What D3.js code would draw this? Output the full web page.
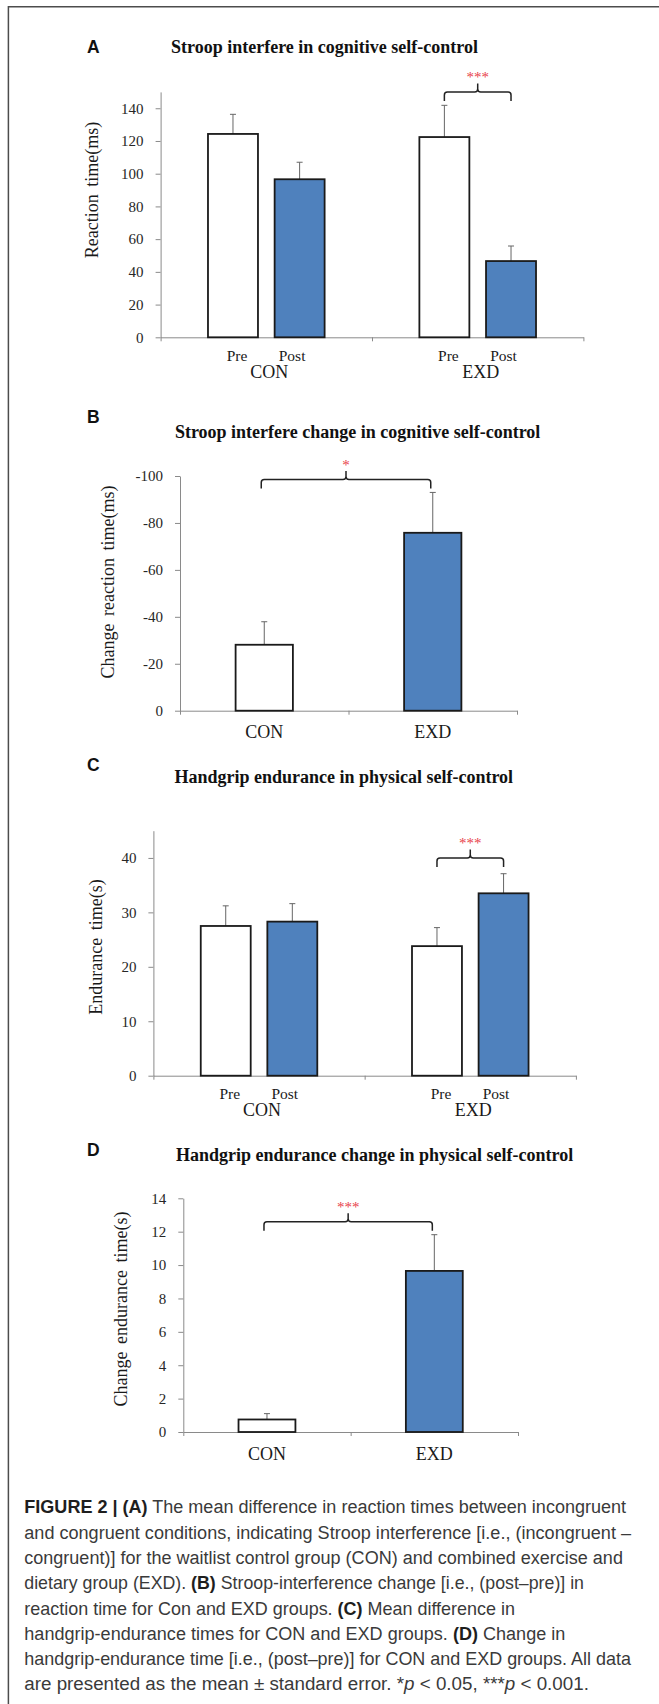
<!DOCTYPE html>
<html>
<head>
<meta charset="utf-8">
<script src="https://cdn.jsdelivr.net/npm/d3@7"></script>
<style>
  body { margin: 0; background: #fff; }
  svg { display: block; }
</style>
</head>
<body>
<script>
var groups = ['CON', 'EXD'];
var phases = ['Pre', 'Post'];

// A: Stroop interference (ms), [group][phase]
var stroopMean = [[124.3, 96.6], [122.4, 46.6]];
var stroopErr = [[12.0, 10.4], [19.4, 9.2]];
var stroopTicks = [0, 20, 40, 60, 80, 100, 120, 140];

// B: change in Stroop interference (ms)
var stroopChange = [-28.1, -75.8];
var stroopChangeErr = [-9.8, -17.2];
var stroopChangeTicks = [0, -20, -40, -60, -80, -100];

// C: handgrip endurance (s), [group][phase]
var gripMean = [[27.5, 28.3], [23.8, 33.5]];
var gripErr = [[3.7, 3.3], [3.4, 3.6]];
var gripTicks = [0, 10, 20, 30, 40];

// D: change in handgrip endurance (s)
var gripChange = [0.75, 9.65];
var gripChangeErr = [0.35, 2.17];
var gripChangeTicks = [0, 2, 4, 6, 8, 10, 12, 14];

// significance brackets, one per panel
var sigLevels = [150, -98.5, 40, 12.6];
var sigLabels = ['***', '*', '***', '***'];

var titles = ['Stroop interfere in cognitive self-control',
              'Stroop interfere change in cognitive self-control',
              'Handgrip endurance in physical self-control',
              'Handgrip endurance change in physical self-control'];
var yLabels = ['Reaction time(ms)', 'Change reaction time(ms)',
               'Endurance time(s)', 'Change endurance time(s)'];
var letters = ['A', 'B', 'C', 'D'];

var blue = '#4f81bd';
var serif = '"Liberation Serif", "Times New Roman", serif';

var svg = d3.select('body').append('svg')
  .attr('width', 659)
  .attr('height', 1704);

svg.append('path')
  .attr('d', 'M8.4,1704V6.7H659')
  .attr('fill', 'none')
  .attr('stroke', '#4d4d4d')
  .attr('stroke-width', 1.5);

var panels = [
  {left: 160.6, right: 583.4, y0: 337.3, yTop: 91.9, yMax: 150, letterY: 52.5, titleX: 171, titleY: 53.3, labX: 92.5, labY: 190},
  {left: 180, right: 517, y0: 710.7, yTop: 476, yMax: -100, letterY: 423, titleX: 174.9, titleY: 438.3, labX: 108.5, labY: 582},
  {left: 153.4, right: 575.9, y0: 1075.7, yTop: 830.7, yMax: 45, letterY: 771, titleX: 174.4, titleY: 783.3, labX: 96.7, labY: 947},
  {left: 183.3, right: 518, y0: 1432, yTop: 1198.3, yMax: 14, letterY: 1156, titleX: 176, titleY: 1161, labX: 121.6, labY: 1309}
];

function axes(i, ticks) {
  var p = panels[i];
  var y = d3.scaleLinear().domain([0, p.yMax]).range([p.y0, p.yTop]);

  svg.append('text')
    .attr('x', 87).attr('y', p.letterY)
    .attr('font-family', '"Liberation Sans", Arial, sans-serif')
    .attr('font-weight', 'bold').attr('font-size', 17.5)
    .attr('fill', '#111')
    .text(letters[i]);

  svg.append('text')
    .attr('x', p.titleX).attr('y', p.titleY)
    .attr('font-family', serif).attr('font-weight', 'bold').attr('font-size', 18)
    .attr('fill', '#111')
    .text(titles[i]);

  svg.append('text')
    .attr('transform', 'translate(' + (p.labX + 5) + ',' + p.labY + ') rotate(-90)')
    .attr('text-anchor', 'middle')
    .attr('font-family', serif).attr('font-size', 18)
    .attr('word-spacing', 3)
    .attr('fill', '#1a1a1a')
    .text(yLabels[i]);

  var gy = svg.append('g')
    .attr('transform', 'translate(' + p.left + ',0)')
    .call(d3.axisLeft(y).tickValues(ticks).tickSize(5).tickSizeOuter(0)
      .tickPadding(12).tickFormat(function(d) { return String(d); }))
    .attr('color', '#8a8a8a')
    .attr('font-family', serif).attr('font-size', 15);
  gy.selectAll('text').attr('fill', '#262626');

  var xb = d3.scaleLinear().domain([0, groups.length]).range([p.left, p.right]);
  svg.append('g')
    .attr('transform', 'translate(0,' + p.y0 + ')')
    .call(d3.axisBottom(xb).tickValues(d3.range(groups.length + 1))
      .tickFormat('').tickSize(4).tickSizeOuter(0))
    .attr('color', '#8a8a8a');

  return y;
}

function errorBar(cx, yBase, yTop) {
  svg.append('line')
    .attr('x1', cx).attr('x2', cx).attr('y1', yBase).attr('y2', yTop)
    .attr('stroke', '#666').attr('stroke-width', 1);
  svg.append('line')
    .attr('x1', cx - 3).attr('x2', cx + 3).attr('y1', yTop).attr('y2', yTop)
    .attr('stroke', '#666').attr('stroke-width', 1);
}

function bracket(i, x1, x2, y) {
  var yb = y(sigLevels[i]);
  var xm = (x1 + x2) / 2;
  var d = 'M' + x1 + ',' + (yb + 9) + 'L' + x1 + ',' + (yb + 3) +
    'Q' + x1 + ',' + yb + ' ' + (x1 + 3) + ',' + yb +
    'L' + (xm - 3) + ',' + yb + 'Q' + xm + ',' + yb + ' ' + xm + ',' + (yb - 3) +
    'L' + xm + ',' + (yb - 8.5) +
    'M' + xm + ',' + (yb - 3) + 'Q' + xm + ',' + yb + ' ' + (xm + 3) + ',' + yb +
    'L' + (x2 - 3) + ',' + yb + 'Q' + x2 + ',' + yb + ' ' + x2 + ',' + (yb + 3) +
    'L' + x2 + ',' + (yb + 9);
  svg.append('path')
    .attr('d', d)
    .attr('fill', 'none')
    .attr('stroke', '#222')
    .attr('stroke-width', 1.5);
  svg.append('text')
    .attr('x', xm).attr('y', yb - 9.5)
    .attr('text-anchor', 'middle')
    .attr('font-family', serif).attr('font-size', 15)
    .attr('fill', '#e8424a')
    .text(sigLabels[i]);
}

function grouped(i, means, errs, ticks, sigGroup) {
  var p = panels[i];
  var y = axes(i, ticks);
  var xg = d3.scaleBand().domain(groups).range([p.left, p.right]);
  var xp = d3.scaleBand().domain(phases).range([0, xg.bandwidth()])
    .paddingInner(0.25).paddingOuter(0.711);

  var data = [];
  groups.forEach(function(g, gi) {
    phases.forEach(function(ph, pi) {
      data.push({group: g, phase: ph, value: means[gi][pi], err: errs[gi][pi]});
    });
  });

  data.forEach(function(d) {
    var cx = xg(d.group) + xp(d.phase) + xp.bandwidth() / 2;
    errorBar(cx, y(d.value), y(d.value + d.err));
  });

  svg.selectAll(null)
    .data(data)
    .enter().append('rect')
    .attr('x', function(d) { return xg(d.group) + xp(d.phase); })
    .attr('width', xp.bandwidth())
    .attr('y', function(d) { return y(d.value); })
    .attr('height', function(d) { return y(0) - y(d.value); })
    .attr('fill', function(d) { return d.phase === 'Pre' ? '#fff' : blue; })
    .attr('stroke', '#1a1a1a')
    .attr('stroke-width', 1.8);

  svg.selectAll(null)
    .data(data)
    .enter().append('text')
    .attr('x', function(d) {
      return xg(d.group) + xp(d.phase) + xp.bandwidth() / 2 + (d.phase === 'Pre' ? 4 : -7.5);
    })
    .attr('y', p.y0 + 23.4)
    .attr('text-anchor', 'middle')
    .attr('font-family', serif).attr('font-size', 15.5)
    .attr('fill', '#1a1a1a')
    .text(function(d) { return d.phase; });

  svg.selectAll(null)
    .data(groups)
    .enter().append('text')
    .attr('x', function(g) { return xg(g) + xg.bandwidth() / 2 + 3; })
    .attr('y', p.y0 + 40.5)
    .attr('text-anchor', 'middle')
    .attr('font-family', serif).attr('font-size', 18)
    .attr('fill', '#1a1a1a')
    .text(function(g) { return g; });

  var c1 = xg(sigGroup) + xp('Pre') + xp.bandwidth() / 2;
  var c2 = xg(sigGroup) + xp('Post') + xp.bandwidth() / 2;
  bracket(i, c1, c2, y);
}

function single(i, values, errs, ticks) {
  var p = panels[i];
  var y = axes(i, ticks);
  var x = d3.scaleBand().domain(groups).range([p.left, p.right])
    .paddingInner(0.66).paddingOuter(0.33);

  var data = groups.map(function(g, gi) {
    return {group: g, value: values[gi], err: errs[gi]};
  });

  data.forEach(function(d) {
    var cx = x(d.group) + x.bandwidth() / 2;
    errorBar(cx, y(d.value), y(d.value + d.err));
  });

  svg.selectAll(null)
    .data(data)
    .enter().append('rect')
    .attr('x', function(d) { return x(d.group); })
    .attr('width', x.bandwidth())
    .attr('y', function(d) { return Math.min(y(d.value), y(0)); })
    .attr('height', function(d) { return Math.abs(y(0) - y(d.value)); })
    .attr('fill', function(d) { return d.group === 'CON' ? '#fff' : blue; })
    .attr('stroke', '#1a1a1a')
    .attr('stroke-width', 1.8);

  svg.selectAll(null)
    .data(groups)
    .enter().append('text')
    .attr('x', function(g) { return x(g) + x.bandwidth() / 2; })
    .attr('y', p.y0 + 27.5)
    .attr('text-anchor', 'middle')
    .attr('font-family', serif).attr('font-size', 18)
    .attr('fill', '#1a1a1a')
    .text(function(g) { return g; });

  var c1 = x('CON') + x.bandwidth() / 2 - 3;
  var c2 = x('EXD') + x.bandwidth() / 2 - 2;
  bracket(i, c1, c2, y);
}

grouped(0, stroopMean, stroopErr, stroopTicks, 'EXD');
single(1, stroopChange, stroopChangeErr, stroopChangeTicks);
grouped(2, gripMean, gripErr, gripTicks, 'EXD');
single(3, gripChange, gripChangeErr, gripChangeTicks);

// caption, each line squeezed to the width it has in the figure
var caption = [
  [['FIGURE 2 | (A)', 'b'], [' The mean difference in reaction times between incongruent']],
  [['and congruent conditions, indicating Stroop interference [i.e., (incongruent \u2013']],
  [['congruent)] for the waitlist control group (CON) and combined exercise and']],
  [['dietary group (EXD). '], ['(B)', 'b'], [' Stroop-interference change [i.e., (post\u2013pre)] in']],
  [['reaction time for Con and EXD groups. '], ['(C)', 'b'], [' Mean difference in']],
  [['handgrip-endurance times for CON and EXD groups. '], ['(D)', 'b'], [' Change in']],
  [['handgrip-endurance time [i.e., (post\u2013pre)] for CON and EXD groups. All data']],
  [['are presented as the mean \u00b1 standard error. *'], ['p', 'i'], [' < 0.05, ***'], ['p', 'i'], [' < 0.001.']]
];
var captionWidths = [602, 607, 599, 560, 491, 541, 607, 565];

caption.forEach(function(line, li) {
  var t = svg.append('text')
    .attr('font-family', '"Liberation Sans", Arial, sans-serif')
    .attr('font-size', 17.6)
    .attr('fill', '#3a3a3a');
  line.forEach(function(seg) {
    var ts = t.append('tspan').text(seg[0]);
    if (seg[1] === 'b') ts.attr('font-weight', 'bold').attr('fill', '#1e1e1e');
    if (seg[1] === 'i') ts.attr('font-style', 'italic');
  });
  var w = t.node().getComputedTextLength();
  t.attr('transform', 'translate(24.3,' + (1513.3 + li * 25.3) + ') scale(' + (captionWidths[li] / w) + ',1)');
});
</script>
</body>
</html>
